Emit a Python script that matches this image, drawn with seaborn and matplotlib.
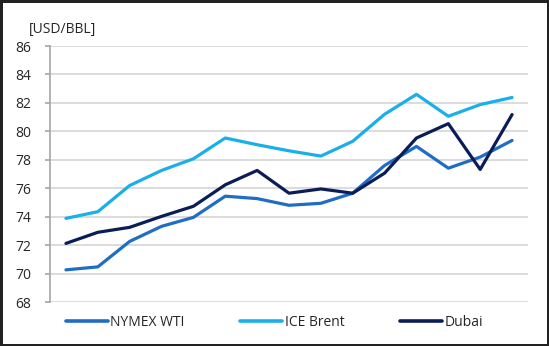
import numpy as np
import pandas as pd
import matplotlib
matplotlib.use("Agg")
import matplotlib.pyplot as plt
import seaborn as sns
from matplotlib.lines import Line2D

series_names = ["NYMEX WTI", "ICE Brent", "Dubai"]
wti = [70.26, 70.47, 72.26, 73.32, 73.95, 75.44, 75.27, 74.8, 74.94, 75.65, 77.6, 78.94, 77.41, 78.19, 79.36]
brent = [73.88, 74.35, 76.19, 77.25, 78.07, 79.53, 79.06, 78.63, 78.26, 79.3, 81.2, 82.6, 81.06, 81.88, 82.38]
dubai = [72.12, 72.9, 73.25, 74.02, 74.73, 76.24, 77.25, 75.65, 75.95, 75.65, 77.06, 79.53, 80.54, 77.32, 81.18]
y_ticks = [68, 70, 72, 74, 76, 78, 80, 82, 84, 86]
unit_label = "[USD/BBL]"

colors = {"NYMEX WTI": "#1F6DC4", "ICE Brent": "#1BAFEA", "Dubai": "#0B1D56"}

rows = []
for name, vals in zip(series_names, [wti, brent, dubai]):
    for i, v in enumerate(vals):
        rows.append({"idx": i, "value": v, "series": name})
df = pd.DataFrame(rows)

sns.set_style("white")
plt.rcParams["font.family"] = ["Open Sans", "DejaVu Sans"]

fig = plt.figure(figsize=(5.49, 3.46), dpi=100, linewidth=2.5, edgecolor="#222222")
ax = fig.add_axes([50/549, 1-302/346, 478/549, 256/346])

sns.lineplot(data=df, x="idx", y="value", hue="series", hue_order=series_names,
             palette=colors, linewidth=2.3, ax=ax, legend=False)

ax.set_xlim(-0.5, len(wti) - 0.5)
ax.set_ylim(68, 86)
ax.set_yticks(y_ticks)
ax.set_xticks([])
ax.set_xlabel("")
ax.set_ylabel("")
ax.yaxis.grid(True, color="#D9D9D9", linewidth=1.3)
ax.set_axisbelow(True)
for s in ["top", "right", "bottom"]:
    ax.spines[s].set_visible(False)
ax.spines["left"].set_color("#A6A6A6")
ax.spines["left"].set_linewidth(1.2)
ax.tick_params(axis="y", which="major", direction="out", length=3.5, width=1.2,
               color="#A6A6A6", pad=10, labelsize=10, labelcolor="#262626")
ax.tick_params(axis="y", left=True)

fig.text(29/549, 1-29/346, unit_label, fontsize=10, color="#262626", va="center", ha="left")

handles = [Line2D([0], [0], color=colors[n], linewidth=2.6) for n in series_names]
fig.legend(handles, series_names, loc="center", bbox_to_anchor=(0.5, 1-322/346), ncol=3,
           frameon=False, fontsize=10, handlelength=3.0, columnspacing=4.0, handletextpad=0.2,
           labelcolor="#262626")

fig.savefig("out.png", dpi=100, edgecolor=fig.get_edgecolor())
